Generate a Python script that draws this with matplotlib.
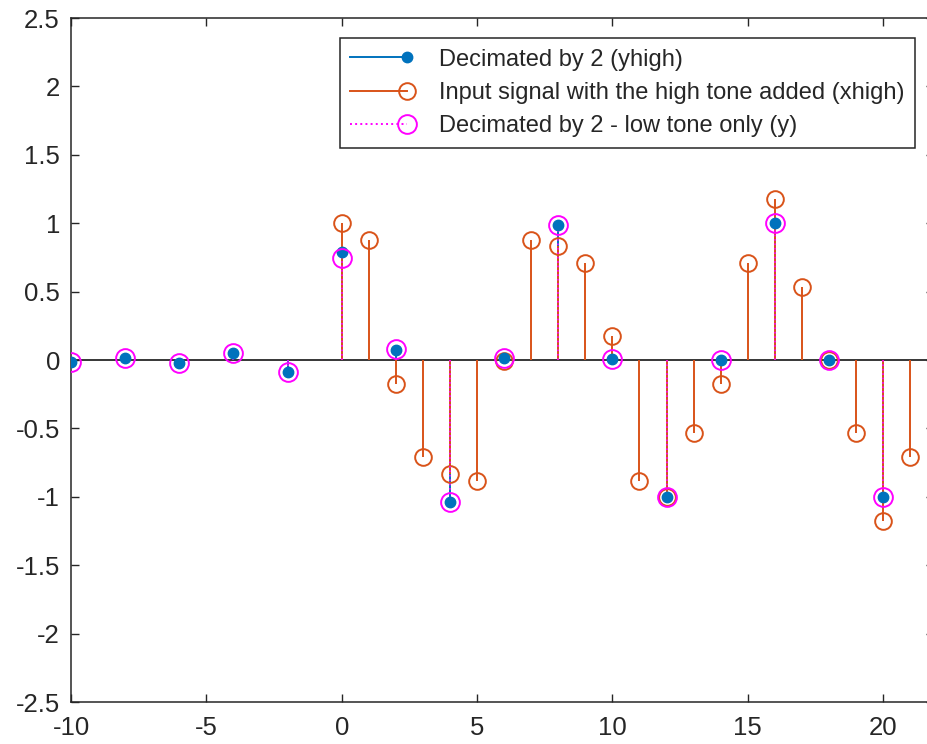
import matplotlib
matplotlib.use("Agg")
import matplotlib.pyplot as plt
from matplotlib.lines import Line2D
from matplotlib.legend_handler import HandlerBase

plt.rcParams['font.family'] = ['Liberation Sans', 'DejaVu Sans']

# input signal with the high tone added (xhigh), n = 0..21
n_high = [0, 1, 2, 3, 4, 5, 6, 7, 8, 9, 10, 11, 12, 13, 14, 15, 16, 17, 18, 19, 20, 21]
xhigh = [1.00, 0.88, -0.175, -0.71, -0.83, -0.885, -0.01, 0.88, 0.83, 0.71, 0.175,
         -0.885, -1.00, -0.535, -0.175, 0.71, 1.175, 0.535, 0.0, -0.535, -1.175, -0.71]

# decimated outputs on even samples
n_dec = [-10, -8, -6, -4, -2, 0, 2, 4, 6, 8, 10, 12, 14, 16, 18, 20]
yhigh = [-0.012, 0.012, -0.024, 0.049, -0.085, 0.79, 0.073, -1.04, 0.017, 0.99,
         0.007, -1.005, 0.0, 1.0, 0.0, -1.0]
y_low = [-0.012, 0.012, -0.024, 0.049, -0.085, 0.745, 0.08, -1.04, 0.017, 0.99,
         0.007, -1.005, 0.0, 1.0, 0.0, -1.0]

labels = ["Decimated by 2 (yhigh)",
          "Input signal with the high tone added (xhigh)",
          "Decimated by 2 - low tone only (y)"]

blue = '#0072BD'
orange = '#D95319'
magenta = '#FF00FF'
dark = '#262626'

fig = plt.figure(figsize=(9.28, 7.44), dpi=100)
ax = fig.add_axes([71/928, 42/744, (934-71)/928, 684/744])

ax.axhline(0, color='black', lw=1.1, zorder=1)

# yhigh stems
ax.vlines(n_dec, 0, yhigh, color=blue, lw=1.4, zorder=2)
ax.plot(n_dec, yhigh, 'o', color=blue, ms=7.5, mec=blue, zorder=5)
# xhigh stems
ax.vlines(n_high, 0, xhigh, color=orange, lw=1.4, zorder=3)
ax.plot(n_high, xhigh, 'o', mfc='none', mec=orange, mew=1.4, ms=12, zorder=4)
# y stems
ax.vlines(n_dec, 0, y_low, color=magenta, lw=1.2, linestyles=':', zorder=4)
ax.plot(n_dec, y_low, 'o', mfc='none', mec=magenta, mew=1.4, ms=13.5, zorder=6)

ax.set_xlim(-10, -10 + (934 - 71) / 27.07)
ax.set_ylim(-2.5, 2.5)
ax.set_xticks([-10, -5, 0, 5, 10, 15, 20])
ax.set_yticks([-2.5, -2, -1.5, -1, -0.5, 0, 0.5, 1, 1.5, 2, 2.5])
ax.set_yticklabels(['-2.5', '-2', '-1.5', '-1', '-0.5', '0', '0.5', '1', '1.5', '2', '2.5'])
ax.set_xticklabels(['-10', '-5', '0', '5', '10', '15', '20'])
ax.tick_params(direction='in', top=True, right=True, length=6, width=1,
               colors=dark, labelsize=18.5, pad=8)
ax.tick_params(axis='x', pad=10)
for s in ax.spines.values():
    s.set_color(dark)
    s.set_linewidth(1.1)


class StemHandler(HandlerBase):
    def create_artists(self, legend, orig_handle, xdescent, ydescent,
                       width, height, fontsize, trans):
        yc = height / 2 - ydescent
        x0 = -xdescent
        x1 = width - xdescent
        ln = Line2D([x0, x1], [yc, yc])
        ln.update_from(orig_handle)
        ln.set_marker('None')
        mk = Line2D([x1], [yc])
        mk.update_from(orig_handle)
        mk.set_linestyle('None')
        ln.set_transform(trans)
        mk.set_transform(trans)
        return [ln, mk]


h1 = Line2D([], [], color=blue, lw=1.4, marker='o', ms=7.5, mfc=blue, mec=blue)
h2 = Line2D([], [], color=orange, lw=1.4, marker='o', ms=12, mfc='none', mec=orange, mew=1.4)
h3 = Line2D([], [], color=magenta, lw=1.4, ls=':', marker='o', ms=13.5, mfc='none',
            mec=magenta, mew=1.4)

leg = ax.legend([h1, h2, h3], labels, loc='upper right',
                bbox_to_anchor=(915/928, 1 - 38/744), bbox_transform=fig.transFigure,
                fontsize=17, handlelength=2.4, handletextpad=1.35, labelspacing=0.48,
                borderpad=0.45, borderaxespad=0, fancybox=False, framealpha=1,
                handler_map={Line2D: StemHandler()})
leg.get_frame().set_edgecolor(dark)
leg.get_frame().set_linewidth(1.1)
for t in leg.get_texts():
    t.set_color(dark)

fig.savefig('out.png', dpi=100)
